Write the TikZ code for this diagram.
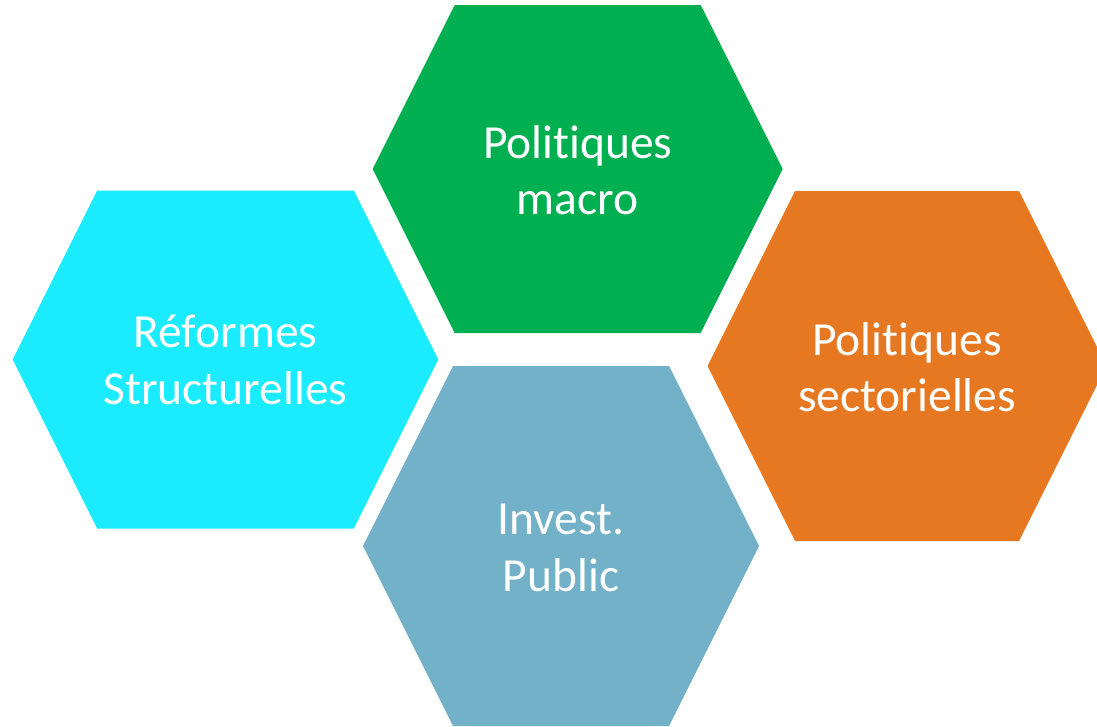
\documentclass[tikz,border=0pt]{standalone}
\usepackage{fontspec}
\setmainfont{Carlito}[Ligatures={NoCommon}]
\definecolor{hexgreen}{HTML}{00B050}
\definecolor{hexcyan}{HTML}{1BEBFF}
\definecolor{hexorange}{HTML}{E77822}
\definecolor{hexblue}{HTML}{72B1C8}
\tikzset{hextext/.style={text=white,align=center,font=\fontsize{47.5}{56.5}\selectfont}}
\begin{document}
\begin{tikzpicture}[x=1pt,y=-1pt]
        \useasboundingbox (0,0) rectangle (1097,726);

        % hexagons: centre, then half top edge, half height
        \fill[hexgreen] (577.7,169) ++(-123,-164) -- ++(246,0) -- ++(82,164) -- ++(-82,164) -- ++(-246,0) -- ++(-82,-164) -- cycle;
        \fill[hexcyan] (225.5,359.5) ++(-128.3,-169) -- ++(256.6,0) -- ++(84.5,169) -- ++(-84.5,169) -- ++(-256.6,0) -- ++(-84.5,-169) -- cycle;
        \fill[hexorange] (907,366) ++(-112,-175) -- ++(224,0) -- ++(87.5,175) -- ++(-87.5,175) -- ++(-224,0) -- ++(-87.5,-175) -- cycle;
        \fill[hexblue] (561,546) ++(-108,-180) -- ++(216,0) -- ++(90,180) -- ++(-90,180) -- ++(-216,0) -- ++(-90,-180) -- cycle;

        \node[hextext] (macro) at (577.7,170) {Politiques\\macro};
        \node[hextext] (reformes) at (225.5,360) {Réformes\\Structurelles};
        \node[hextext] (secteur) at (907,367) {Politiques\\sectorielles};
        \node[hextext] (invest) at (561,548) {Invest.\\Public};
    \end{tikzpicture}
\end{document}
